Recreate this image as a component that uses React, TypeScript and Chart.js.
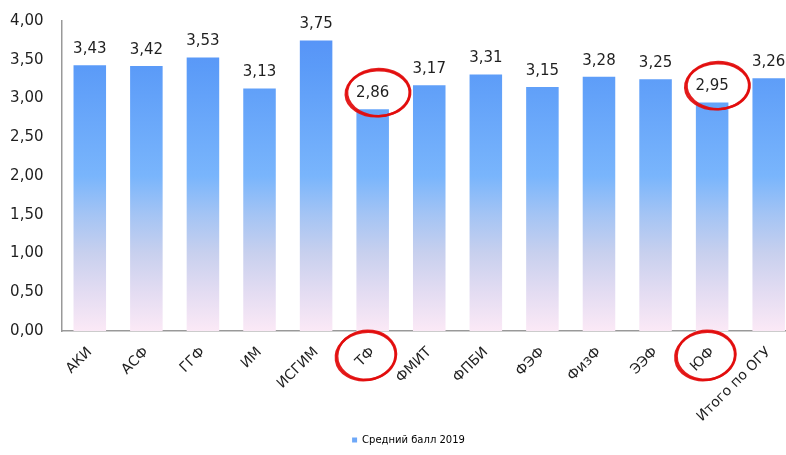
import React, { useEffect, useRef } from "react";
import { Chart, registerables } from "chart.js";

Chart.register(...registerables);

const categories = [
  "АКИ", "АСФ", "ГГФ", "ИМ", "ИСГИМ", "ТФ", "ФМИТ", "ФПБИ", "ФЭФ", "ФизФ", "ЭЭФ", "ЮФ", "Итого по ОГУ",
];
const values = [3.43, 3.42, 3.53, 3.13, 3.75, 2.86, 3.17, 3.31, 3.15, 3.28, 3.25, 2.95, 3.26];
const seriesName = "Средний балл 2019";
const highlighted = ["ТФ", "ЮФ"];
const yMin = 0;
const yMax = 4;
const yStep = 0.5;

const FONT = "'DejaVu Sans', sans-serif";
const TEXT = "#1f1f1f";
const RED = "rgba(226, 12, 12, 0.92)";

const fmt = (v: number) => v.toFixed(2).replace(".", ",");

const dataLabels = {
  id: "dataLabels",
  afterDatasetsDraw(chart: any) {
    const ctx = chart.ctx;
    const meta = chart.getDatasetMeta(0);
    ctx.save();
    ctx.font = `15px ${FONT}`;
    ctx.fillStyle = TEXT;
    ctx.textAlign = "center";
    ctx.textBaseline = "middle";
    meta.data.forEach((bar: any, i: number) => {
      ctx.fillText(fmt(values[i]), bar.x, bar.y - 16);
    });
    ctx.restore();
  },
};

function handEllipse(ctx: CanvasRenderingContext2D, cx: number, cy: number, rx: number, ry: number, rot: number) {
  ctx.beginPath();
  ctx.ellipse(cx, cy, rx, ry, rot, 0, Math.PI * 2);
  ctx.stroke();
  ctx.beginPath();
  ctx.ellipse(cx + 1, cy - 0.8, rx - 0.5, ry + 0.5, rot + 0.04, 0.3, Math.PI * 2 + 0.5);
  ctx.stroke();
}

const circles = {
  id: "circles",
  afterDraw(chart: any) {
    const ctx = chart.ctx;
    const xs = chart.scales.x;
    const ys = chart.scales.y;
    ctx.save();
    ctx.strokeStyle = RED;
    ctx.lineWidth = 2.4;
    highlighted.forEach((name) => {
      const i = categories.indexOf(name);
      if (i < 0) return;
      const x = xs.getPixelForValue(i);
      const yl = ys.getPixelForValue(values[i]) - 16;
      handEllipse(ctx, x + 5, yl, 32, 23, -0.05);
      handEllipse(ctx, x - 7, xs.top + 25, 30, 24, -0.15);
    });
    ctx.restore();
  },
};

// nudges the legend to the right, as in the original layout
const legendShift = {
  id: "legendShift",
  afterLayout(chart: any) {
    const lg = chart.legend;
    if (!lg) return;
    lg.left += 10;
    lg.right += 10;
  },
};

export default function App() {
  const ref = useRef<HTMLCanvasElement | null>(null);

  useEffect(() => {
    if (!ref.current) return;
    const chart = new Chart(ref.current, {
      type: "bar",
      data: {
        labels: categories,
        datasets: [
          {
            label: seriesName,
            data: values,
            backgroundColor: (c: any) => {
              const ch = c.chart;
              if (!ch.chartArea || !ch.scales.y) return "#6ea8f8";
              const y = ch.scales.y;
              const g = ch.ctx.createLinearGradient(0, y.getPixelForValue(yMax), 0, y.getPixelForValue(yMin));
              g.addColorStop(0, "#5590f6");
              g.addColorStop(0.15, "#5b9bf8");
              g.addColorStop(0.5, "#79b5fc");
              g.addColorStop(0.625, "#a4c4f4");
              g.addColorStop(0.75, "#c8d0ee");
              g.addColorStop(0.875, "#e3dcf2");
              g.addColorStop(1, "#fbe9f6");
              return g;
            },
            borderWidth: 0,
            barPercentage: 0.575,
            categoryPercentage: 1,
          },
        ],
      },
      options: {
        responsive: false,
        animation: false,
        devicePixelRatio: 1,
        layout: { padding: { top: 21, right: 3, left: 0, bottom: 0 } },
        plugins: {
          tooltip: { enabled: false },
          legend: {
            position: "bottom",
            labels: {
              boxWidth: 5,
              boxHeight: 5,
              padding: 2,
              color: TEXT,
              font: { family: FONT, size: 10 },
              generateLabels: () => [
                {
                  text: seriesName,
                  fillStyle: "#6ea8f8",
                  strokeStyle: "#6ea8f8",
                  lineWidth: 0,
                  hidden: false,
                  datasetIndex: 0,
                } as any,
              ],
            },
          },
        },
        scales: {
          x: {
            grid: { display: false, drawTicks: false },
            border: { display: true, color: "#999999", width: 1.5 },
            ticks: {
              minRotation: 45,
              maxRotation: 45,
              autoSkip: false,
              padding: 13,
              color: TEXT,
              font: { family: FONT, size: 14 },
            },
            afterFit: (s: any) => {
              s.height = 102;
            },
          },
          y: {
            min: yMin,
            max: yMax,
            grid: { display: false, drawTicks: false },
            border: { display: true, color: "#999999", width: 1.5 },
            ticks: {
              stepSize: yStep,
              padding: 18,
              color: TEXT,
              font: { family: FONT, size: 15 },
              callback: (v: any) => fmt(Number(v)),
            },
            afterFit: (s: any) => {
              s.width = 61.5;
              s.paddingTop = 9;
              s.paddingBottom = 9;
            },
          },
        },
      },
      plugins: [dataLabels, circles, legendShift],
    });
    return () => chart.destroy();
  }, []);

  return (
    <div
      style={{
        position: "fixed",
        left: 0,
        top: 0,
        width: 786,
        height: 455,
        overflow: "hidden",
        background: "#fff",
      }}
    >
      <canvas ref={ref} width={800} height={455} style={{ display: "block" }} />
    </div>
  );
}
